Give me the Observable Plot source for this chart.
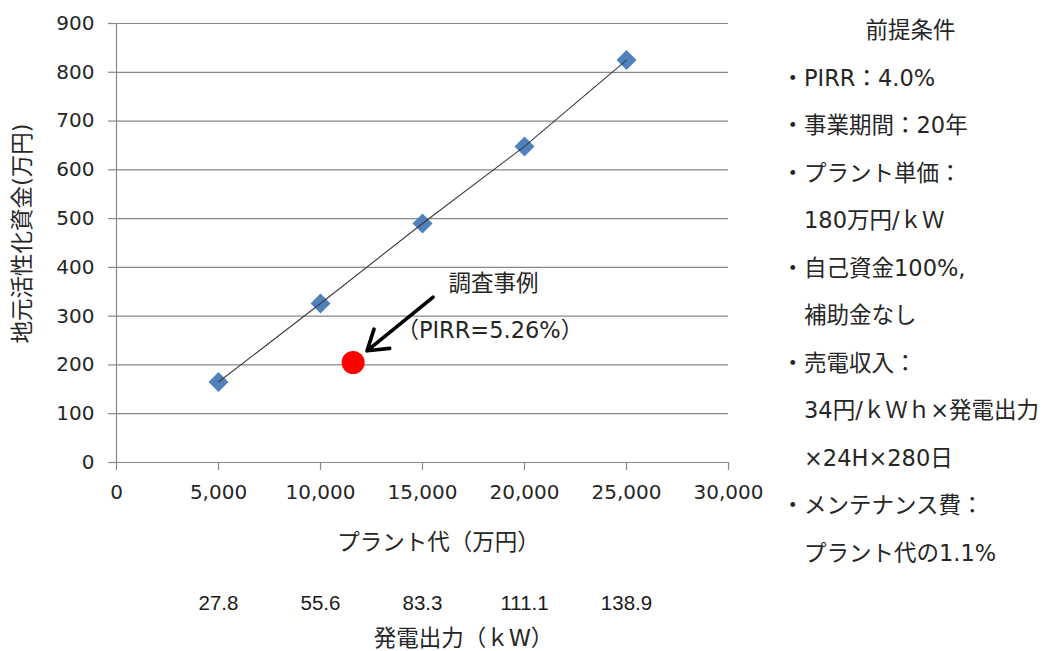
<!DOCTYPE html>
<html>
<head>
<meta charset="utf-8">
<script src="https://cdn.jsdelivr.net/npm/d3@7"></script>
<script src="https://cdn.jsdelivr.net/npm/@observablehq/plot@0.6"></script>
<style>
  body { margin: 0; background: #fff; }
  #chart svg { overflow: visible; display: block; }
</style>
</head>
<body>
<div id="chart"></div>
<script>
// ---- data ----
const plantCost = [5000, 10000, 15000, 20000, 25000];      // プラント代（万円）
const localFund = [165, 326, 490, 648, 825];               // 地元活性化資金（万円）
const outputKW = ["27.8", "55.6", "83.3", "111.1", "138.9"]; // 発電出力（kW）
const caseCost = [11600];                                  // 調査事例
const caseFund = [205];
const yTicks = [0, 100, 200, 300, 400, 500, 600, 700, 800, 900];
const xTicks = [0, 5000, 10000, 15000, 20000, 25000, 30000];
const arrowFrom = [15520, 339];
const arrowTo = [12280, 229];
const caseLabel = "調査事例";
const caseLabelAt = [16270, 367];
const caseIrr = "（PIRR=5.26%）";
const caseIrrAt = [13720, 270];
const yTitle = "地元活性化資金(万円)";
const xTitle = "プラント代（万円）";
const kwTitle = "発電出力（ｋW）";
const conditionsTitle = "前提条件";
const conditions = [
  "・PIRR：4.0%",
  "・事業期間：20年",
  "・プラント単価：",
  "　180万円/ｋＷ",
  "・自己資金100%,",
  "　補助金なし",
  "・売電収入：",
  "　34円/ｋＷｈ×発電出力",
  "　×24H×280日",
  "・メンテナンス費：",
  "　プラント代の1.1%"
];

// ---- build ----
const JP = '"DejaVu Sans", "Noto Sans CJK JP", sans-serif';
const NUM = '"DejaVu Sans", Verdana, sans-serif';
const points = plantCost.map((x, i) => ({x, y: localFund[i]}));
const caseRows = caseCost.map((x, i) => ({x, y: caseFund[i]}));
const kwRows = plantCost.map((x, i) => ({x, label: outputKW[i]}));
const arrowRows = [{x1: arrowFrom[0], y1: arrowFrom[1], x2: arrowTo[0], y2: arrowTo[1]}];

const gridColor = "#878787";
const textColor = "#262626";
const jpSize = 22.5;

const conditionMarks = conditions.map((t, i) =>
  Plot.text([t], {
    frameAnchor: "top-right",
    dx: 53,
    dy: 55 + i * 47.5,
    textAnchor: "start",
    lineAnchor: "middle",
    fontFamily: JP,
    fontSize: jpSize,
    fill: textColor
  })
);

const plot = Plot.plot({
  width: 1054,
  height: 651,
  marginLeft: 116,
  marginRight: 326,
  marginTop: 23,
  marginBottom: 189,
  x: {domain: [0, 30000]},
  y: {domain: [0, 900]},
  style: {fontFamily: NUM, color: textColor, background: "white", overflow: "visible"},
  marks: [
    Plot.gridY(yTicks, {stroke: gridColor, strokeOpacity: 1, strokeWidth: 1.2}),
    Plot.ruleX([0], {stroke: gridColor, strokeWidth: 1.2}),
    Plot.axisY(yTicks, {
      tickSize: 8, tickPadding: 14, stroke: gridColor, strokeWidth: 1.2,
      fontSize: 20, fontFamily: NUM, fill: textColor, label: null
    }),
    Plot.axisX(xTicks, {
      tickSize: 8, tickPadding: 14, stroke: gridColor, strokeWidth: 1.2,
      fontSize: 20, fontFamily: NUM, fill: textColor, label: null, tickFormat: d3.format(",")
    }),
    Plot.dot(points, {x: "x", y: "y", symbol: "diamond2", r: 9, fill: "#4F81BD"}),
    Plot.line(points, {x: "x", y: "y", stroke: "#3a3a3a", strokeWidth: 1.1}),
    Plot.dot(caseRows, {x: "x", y: "y", r: 11.5, fill: "#FF0000"}),
    Plot.arrow(arrowRows, {
      x1: "x1", y1: "y1", x2: "x2", y2: "y2",
      stroke: "black", strokeWidth: 3.6, headLength: 9.5, headAngle: 66
    }),
    Plot.text([caseLabel], {
      x: () => caseLabelAt[0], y: () => caseLabelAt[1],
      textAnchor: "start", fontFamily: JP, fontSize: jpSize, fill: textColor
    }),
    Plot.text([caseIrr], {
      x: () => caseIrrAt[0], y: () => caseIrrAt[1],
      textAnchor: "start", fontFamily: JP, fontSize: jpSize, fill: textColor
    }),
    Plot.text([yTitle], {
      frameAnchor: "left", rotate: -90, dx: -94, dy: -9.5,
      textAnchor: "middle", lineAnchor: "middle",
      fontFamily: JP, fontSize: jpSize, fill: textColor
    }),
    Plot.text([xTitle], {
      frameAnchor: "bottom", dx: 16, dy: 80.5,
      textAnchor: "middle", lineAnchor: "middle",
      fontFamily: JP, fontSize: jpSize, fill: textColor
    }),
    Plot.text(kwRows, {
      x: "x", text: "label", frameAnchor: "bottom", dy: 140.5,
      lineAnchor: "middle",
      fontFamily: '"Liberation Sans", Arial, sans-serif', fontSize: 20.5, fill: "#1a1a1a"
    }),
    Plot.text([kwTitle], {
      frameAnchor: "bottom", dx: 41, dy: 176.5,
      textAnchor: "middle", lineAnchor: "middle",
      fontFamily: JP, fontSize: jpSize, fill: textColor
    }),
    Plot.text([conditionsTitle], {
      frameAnchor: "top-right", dx: 182, dy: 7,
      textAnchor: "middle", lineAnchor: "middle",
      fontFamily: JP, fontSize: jpSize, fill: textColor
    }),
    ...conditionMarks
  ]
});

document.getElementById("chart").append(plot);
</script>
</body>
</html>
